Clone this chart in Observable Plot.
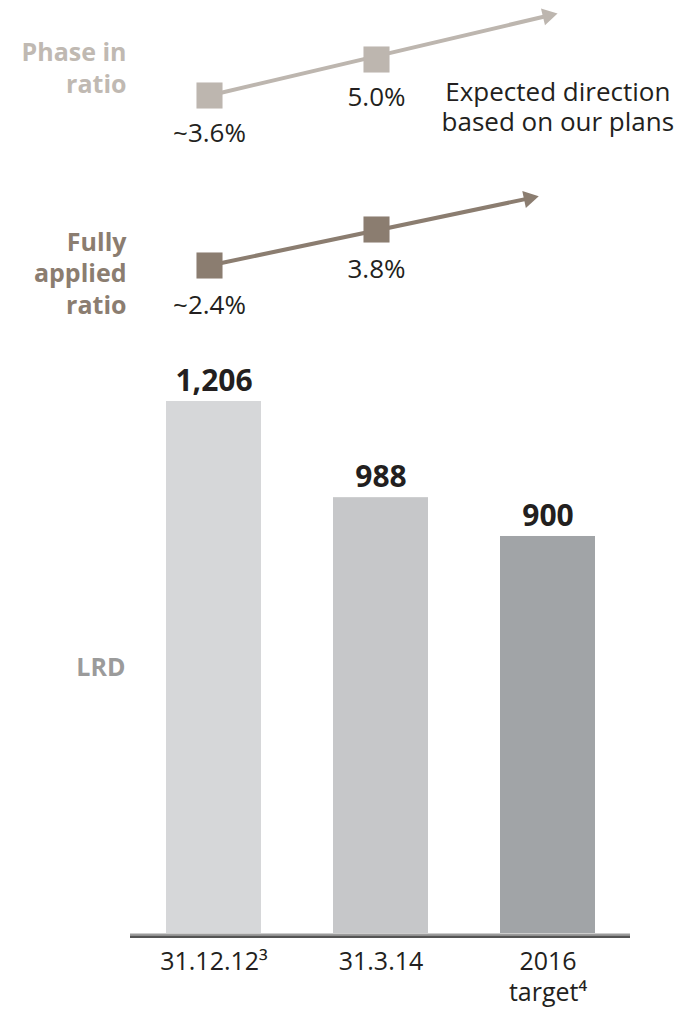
<!DOCTYPE html>
<html>
<head>
<meta charset="utf-8">
<script src="https://cdn.jsdelivr.net/npm/d3@7"></script>
<script src="https://cdn.jsdelivr.net/npm/@observablehq/plot@0.6"></script>
<style>
  html, body { margin: 0; padding: 0; background: #fff; }
  #chart { position: relative; width: 678px; height: 1010px; font-family: "Open Sans", sans-serif; }
  #chart > div, #chart > svg { position: absolute; left: 0; }
</style>
</head>
<body>
<div id="chart"></div>
<script>
// ---- data ----
const periods = ["31.12.12³", "31.3.14", "2016\ntarget⁴"];
const lrdValues = [1206, 988, 900];

const ratioIndex = [0, 1];                 // first two periods
const phaseInValues = [3.6, 5.0];
const phaseInLabels = ["~3.6%", "5.0%"];
const fullyAppliedValues = [2.4, 3.8];
const fullyAppliedLabels = ["~2.4%", "3.8%"];

// expected-direction arrow heads (in the same units)
const phaseArrowEnd = [{i: 2.026, v: 6.70}];
const fullyArrowEnd = [{i: 1.913, v: 5.01}];

const rowLabels = ["Phase in\nratio", "Fully\napplied\nratio", "LRD"];
const noteLines = ["Expected direction", "based on our plans"];

// ---- styles ----
const phaseColor = "#bdb6af";
const phaseTextColor = "#c0b9b2";
const fullyColor = "#8b7d70";
const barColors = ["#d6d7d9", "#c6c7c9", "#a1a4a7"];
const ink = "#231f20";
const font = "Open Sans";

const W = 678;
const chart = document.getElementById("chart");

function ratioRow({values, labels, arrowEnd, color, labelColor, rowLabel, top, height, yRange, mt, mb, rot, valueDy, labelLH, note}) {
  const pts = ratioIndex.map((i, k) => ({i, v: values[k], label: labels[k]}));
  const marks = [
    Plot.link([{x1: pts[0].i, y1: pts[0].v, x2: arrowEnd[0].i, y2: arrowEnd[0].v}], {
      x1: "x1", y1: "y1", x2: "x2", y2: "y2", stroke: color, strokeWidth: 4
    }),
    Plot.dot(arrowEnd, {x: "i", y: "v", symbol: "triangle", r: 6.43, fill: color, stroke: "none", rotate: rot}),
    Plot.dot(pts, {x: "i", y: "v", symbol: "square", r: 14.7, fill: color, stroke: "none"}),
    Plot.text(pts, {x: "i", y: "v", text: "label", dy: valueDy, fontSize: 26, fill: ink}),
    Plot.text([rowLabel], {frameAnchor: "left", textAnchor: "end", dx: -2, fontSize: 25, fontWeight: "bold",
      fill: labelColor, lineHeight: labelLH, lineAnchor: "middle"})
  ];
  if (note) {
    marks.push(Plot.text(arrowEnd, {x: "i", y: "v", text: () => note[0], dx: 10, dy: 77, fontSize: 26,
      fill: ink, lineAnchor: "middle"}));
    marks.push(Plot.text(arrowEnd, {x: "i", y: "v", text: () => note[1], dx: 10, dy: 107, fontSize: 26,
      fill: ink, lineAnchor: "middle"}));
  }
  const p = Plot.plot({
    width: W, height,
    marginLeft: 128, marginRight: 0, marginTop: mt, marginBottom: mb,
    x: {type: "linear", domain: [0, 1], range: [209, 376], axis: null},
    y: {type: "linear", domain: [values[0], values[1]], range: yRange, axis: null},
    style: {fontFamily: font, overflow: "visible", background: "transparent"},
    marks
  });
  p.style.top = top + "px";
  chart.appendChild(p);
}

ratioRow({
  values: phaseInValues, labels: phaseInLabels, arrowEnd: phaseArrowEnd,
  color: phaseColor, labelColor: phaseTextColor, rowLabel: rowLabels[0],
  top: 0, height: 160, yRange: [95, 59], mt: 0, mb: 27, rot: 76.7, valueDy: 38, labelLH: 1.28, note: noteLines
});
ratioRow({
  values: fullyAppliedValues, labels: fullyAppliedLabels, arrowEnd: fullyArrowEnd,
  color: fullyColor, labelColor: fullyColor, rowLabel: rowLabels[1],
  top: 160, height: 180, yRange: [105, 69], mt: 43, mb: 0, rot: 78.1, valueDy: 40, labelLH: 1.26
});

// ---- LRD bars ----
const bars = periods.map((p, k) => ({period: p, value: lrdValues[k], color: barColors[k]}));
const barPlot = Plot.plot({
  width: W, height: 670,
  marginLeft: 130, marginRight: 48, marginTop: 61, marginBottom: 77,
  x: {domain: periods, paddingInner: 0.433, paddingOuter: 0.209, label: null},
  y: {domain: [0, lrdValues[0]], axis: null},
  style: {fontFamily: font, overflow: "visible", background: "transparent"},
  marks: [
    Plot.barY(bars, {x: "period", y: "value", fill: "color"}),
    Plot.ruleY([0], {stroke: "#9c9c9c", strokeWidth: 2, dy: 1}),
    Plot.ruleY([0], {stroke: "#545454", strokeWidth: 2.4, dy: 3.2}),
    Plot.text(bars, {x: "period", y: "value", text: d => d3.format(",")(d.value), dy: -20,
      fontSize: 30, fontWeight: "bold", fill: ink, lineAnchor: "middle"}),
    Plot.axisX({tickSize: 0, tickPadding: 14, fontSize: 25, lineHeight: 1.24, fill: ink, label: null}),
    Plot.text([rowLabels[2]], {frameAnchor: "left", textAnchor: "end", dx: -5, fontSize: 25,
      fontWeight: "bold", fill: "#9b9b9b"})
  ]
});
barPlot.style.top = "340px";
chart.appendChild(barPlot);
</script>
</body>
</html>
